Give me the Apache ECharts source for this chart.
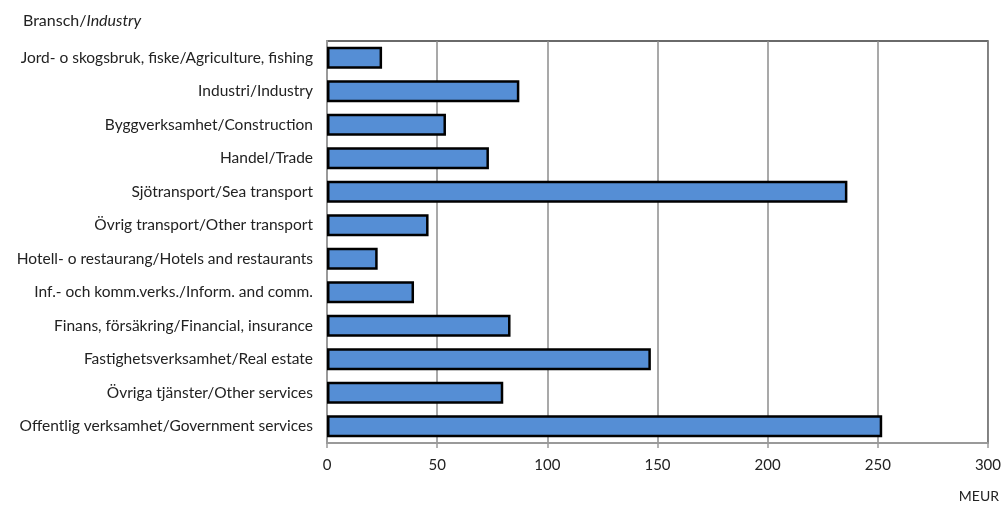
<!DOCTYPE html>
<html>
<head>
<meta charset="utf-8">
<script src="https://cdn.jsdelivr.net/npm/echarts@6/dist/echarts.min.js"></script>
<style>
  html, body { margin: 0; padding: 0; background: #fff; }
  #chart { width: 1004px; height: 507px; }
</style>
</head>
<body>
<div id="chart"></div>
<script>
const categories = [
  'Jord- o skogsbruk, fiske/Agriculture, fishing',
  'Industri/Industry',
  'Byggverksamhet/Construction',
  'Handel/Trade',
  'Sjötransport/Sea transport',
  'Övrig transport/Other transport',
  'Hotell- o restaurang/Hotels and restaurants',
  'Inf.- och komm.verks./Inform. and comm.',
  'Finans, försäkring/Financial, insurance',
  'Fastighetsverksamhet/Real estate',
  'Övriga tjänster/Other services',
  'Offentlig verksamhet/Government services'
]
const values = [25, 87.3, 54, 73.5, 236.2, 46.1, 23, 39.5, 83.3, 147, 80, 252]
const xTicks = [0, 50, 100, 150, 200, 250, 300]

const font = 'Lato, "Open Sans", sans-serif'
const chart = echarts.init(document.getElementById('chart'))
chart.setOption({
  animation: false,
  textStyle: { fontFamily: font },
  title: {
    left: 18, top: 8,
    text: '{a|Bransch/}{b|Industry}',
    textStyle: {
      fontWeight: 'normal',
      rich: {
        a: { fontFamily: font, fontSize: 16, color: '#222', fontWeight: 'normal' },
        b: { fontFamily: font, fontSize: 16, color: '#222', fontWeight: 'normal', fontStyle: 'italic' }
      }
    }
  },
  graphic: [{
    type: 'text', right: 5, top: 489,
    style: { text: 'MEUR', font: '14px ' + font, fill: '#222' }
  }],
  grid: {
    left: 327, right: 16, top: 41, bottom: 64,
    show: true, borderColor: '#3a3a3a', borderWidth: 1.5
  },
  xAxis: {
    type: 'value',
    min: xTicks[0], max: xTicks[xTicks.length - 1], interval: 50,
    axisLine: { show: true, lineStyle: { color: '#9a9a9a', width: 2 } },
    axisTick: { show: true, length: 5, lineStyle: { color: '#9a9a9a', width: 1.5 } },
    splitLine: { show: true, lineStyle: { color: '#8c8c8c', width: 1.5 } },
    axisLabel: { color: '#222', fontSize: 15, margin: 15 }
  },
  yAxis: {
    type: 'category',
    data: categories,
    inverse: true,
    axisLine: { show: true, lineStyle: { color: '#9a9a9a', width: 2 } },
    axisTick: { show: false },
    axisLabel: { color: '#222', fontSize: 15.5, margin: 14 }
  },
  series: [{
    type: 'bar',
    data: values,
    barCategoryGap: '34%',
    itemStyle: { color: '#558ed5', borderColor: '#000', borderWidth: 2.5 }
  }]
})
</script>
</body>
</html>
